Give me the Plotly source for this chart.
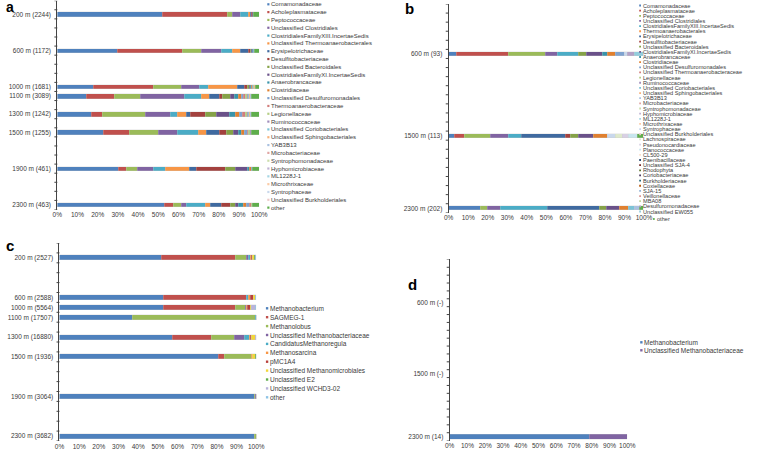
import plotly.graph_objects as go

W, H = 761, 451

# ---------------- Panel a data ----------------
a_depths = [200, 600, 1000, 1100, 1300, 1500, 1900, 2300]
a_reads = [2244, 1172, 1681, 3089, 1242, 1255, 461, 463]
a_families = ["Comamonadaceae", "Acholeplasmataceae", "Peptococcaceae", "Unclassified Clostridiales",
              "ClostridialesFamilyXIII.IncertaeSedis", "Unclassified Thermoanaerobacterales",
              "Erysipelotrichaceae", "Desulfitobacteriaceae", "Unclassified Bacteroidales",
              "ClostridialesFamilyXI.IncertaeSedis", "Anaerobrancaceae", "Clostridiaceae",
              "Unclassified Desulfuromonadales", "Thermoanaerobacteraceae", "Legionellaceae",
              "Ruminococcaceae", "Unclassified Coriobacteriales", "Unclassified Sphingobacteriales",
              "YAB3B13", "Microbacteriaceae", "Syntrophomonadaceae", "Hyphomicrobiaceae", "ML1228J-1",
              "Microthrixaceae", "Syntrophaceae", "Unclassified Burkholderiales", "other"]
a_200 = [52, 32, 2.6, 4, 4.1, 1.0, 0.5, 0.3, 0.2, 0.2, 0.1, 0.1, 0.1, 0.1, 0, 0, 0, 0, 0, 0, 0, 0, 0, 0, 0, 0, 2.7]
a_600 = [29.5, 32.3, 9.4, 9.8, 5.6, 4.0, 4.1, 1.0, 0.6, 0.4, 0.3, 0.2, 0.2, 0.1, 0.1, 0.1, 0, 0, 0, 0, 0, 0, 0, 0, 0, 0, 2.3]
a_1000 = [18, 29.7, 13.8, 8.9, 4.6, 14.3, 3.4, 1.2, 1.0, 0.8, 0.6, 0.5, 0.3, 0.2, 0.2, 0.2, 0.1, 0.1, 0, 0, 0, 0, 0, 0, 0, 0, 2.1]
a_1100 = [14.2, 14.1, 13.0, 21.5, 8.4, 4.0, 4.8, 1.5, 4.3, 2.0, 1.8, 1.5, 1.2, 1.0, 0.8, 0.7, 0.5, 0.4, 0.3, 0, 0, 0, 0, 0, 0, 0, 4.0]
a_1300 = [16.7, 5.5, 21.5, 12.4, 3.4, 4.4, 2.1, 7.1, 5.4, 6.5, 3.2, 2.0, 1.5, 1.2, 1.0, 0.8, 0.6, 0.4, 0.3, 0, 0, 0, 0, 0, 0, 0, 4.0]
a_1500 = [23, 12.9, 14.3, 9.2, 10.2, 4.0, 6.4, 3.6, 3.8, 2.0, 1.8, 1.5, 1.2, 0.9, 0.7, 0.5, 0.3, 0, 0, 0, 0, 0, 0, 0, 0, 0, 3.7]
a_1900 = [30, 4.3, 5.3, 7.8, 6.0, 12.1, 3.3, 14.2, 5.2, 5.7, 1.2, 0.9, 0.8, 0, 0, 0, 0, 0, 0, 0, 0, 0, 0, 0, 0, 0, 3.2]
a_2300 = [52.9, 4.5, 4.1, 2.4, 9.2, 2.6, 5.7, 4.4, 2.2, 1.8, 2.5, 1.5, 1.2, 0.9, 0.7, 0, 0, 0, 0, 0, 0, 0, 0, 0, 0, 0, 3.4]
a_rows = [a_200, a_600, a_1000, a_1100, a_1300, a_1500, a_1900, a_2300]

# ---------------- Panel b data ----------------
b_depths = [600, 1500, 2300]
b_reads = [93, 113, 202]
b_families = ["Comamonadaceae", "Acholeplasmataceae", "Peptococcaceae", "Unclassified Clostridiales",
              "ClostridialesFamilyXIII.IncertaeSedis", "Thermoanaerobacterales", "Erysipelotrichaceae",
              "Desulfitobacteriaceae", "Unclassified Bacteroidales", "ClostridialesFamilyXI.IncertaeSedis",
              "Anaerobrancaceae", "Clostridiaceae", "Unclassified Desulfuromonadales",
              "Unclassified Thermoanaerobacteraceae", "Legionellaceae", "Ruminococcaceae",
              "Unclassified Coriobacteriales", "Unclassified Sphingobacteriales", "YAB3B13",
              "Microbacteriaceae", "Syntrophomonadaceae", "Hyphomicrobiaceae", "ML1228J-1",
              "Microthrixaceae", "Syntrophaceae", "Unclassified Burkholderiales", "Lachnospiraceae",
              "Pseudonocardiaceae", "Planococcaceae", "CL500-29", "Paenibacillaceae", "Unclassified SJA-4",
              "Rhodophyta", "Coriobacteriaceae", "Burkholderiaceae", "Coxiellaceae", "SJA-15",
              "Veillonellaceae", "MBA08", "Desulfuromonadaceae", "Unclassified EW055", "other"]
b_600 = [4, 26.7, 19.2, 5.8, 10.8, 0, 0, 0, 4.2, 8.3, 2.5, 4.2, 4.2, 0, 0, 0, 0, 0, 0, 0, 0, 0, 0, 0,
         1.5, 0, 0, 0, 0, 0, 0, 0, 0, 0, 0, 0, 0, 0, 0, 4.0, 4.6, 0]
b_1500 = [3.2, 5, 13.3, 9.2, 6.6, 0, 22.5, 2.5, 4.2, 7.5, 0, 7.5, 0, 0, 0, 0, 0, 0, 0, 0, 0, 0, 0, 0,
          4.2, 0, 3.5, 3.0, 4.3, 0, 0, 0, 0, 0, 0, 0, 0, 0, 0, 0, 0, 3.5]
b_2300 = [16.5, 0, 3.3, 6.7, 24.2, 0, 26.6, 0, 3.4, 6.6, 0, 5.0, 0, 0, 0, 0, 3.0, 0, 2.7, 0, 0, 0, 0, 0,
          0, 0, 0, 0, 0, 0, 0, 0, 0, 0, 0, 0, 0, 0, 0, 0, 0, 2.0]
b_rows = [b_600, b_1500, b_2300]

# ---------------- Panel c data ----------------
c_depths = [200, 600, 1000, 1100, 1300, 1500, 1900, 2300]
c_reads = [2527, 2588, 5564, 17507, 16880, 1936, 3064, 3682]
c_genera = ["Methanobacterium", "SAGMEG-1", "Methanolobus", "Unclassified Methanobacteriaceae",
            "CandidatusMethanoregula", "Methanosarcina", "pMC1A4", "Unclassified Methanomicrobiales",
            "Unclassified E2", "Unclassified WCHD3-02", "other"]
c_200 = [52, 37.5, 5.5, 1.0, 1.0, 0.5, 0.5, 1.0, 0.5, 0.3, 0.2]
c_600 = [52.9, 41.9, 0, 0.3, 1.1, 1.0, 1.4, 0.8, 0.2, 0.2, 0.2]
c_1000 = [52.9, 36.3, 5.3, 0.3, 0.4, 0.5, 1.3, 0.5, 0.2, 2.1, 0.2]
c_1100 = [37.1, 0, 62.6, 0.1, 0.1, 0, 0, 0.1, 0, 0, 0]
c_1300 = [57.4, 19.6, 11.7, 5.3, 2.5, 0.5, 0.4, 2.3, 0.1, 0.1, 0.1]
c_1500 = [80.9, 2.8, 13.6, 0.2, 0.2, 0.3, 0.2, 1.6, 0.1, 0.1, 0]
c_1900 = [99.2, 0, 0.6, 0.1, 0.1, 0, 0, 0, 0, 0, 0]
c_2300 = [99.2, 0, 0.7, 0.1, 0, 0, 0, 0, 0, 0, 0]
c_rows = [c_200, c_600, c_1000, c_1100, c_1300, c_1500, c_1900, c_2300]

# ---------------- Panel d data ----------------
d_depths = [600, 1500, 2300]
d_reads = ["-", "-", "14"]
d_genera = ["Methanobacterium", "Unclassified Methanobacteriaceae"]
d_600 = [0, 0]
d_1500 = [0, 0]
d_2300 = [79, 21]
d_rows = [d_600, d_1500, d_2300]

# depth slots (category rows) of each panel's axis
ab_slots = list(range(100, 2400, 100))
c_slots = list(range(100, 700, 100)) + list(range(1000, 2400, 100))
x_ticks = list(range(0, 101, 10))

# ---------------- colours ----------------
fam_colors = ['#4F81BD', '#C0504D', '#9BBB59', '#8064A2', '#4BACC6', '#F79646',
              '#3F6AA0', '#A3413E', '#85A247', '#6A5189', '#3893AA', '#E0802F',
              '#7FA3D0', '#D27E7C', '#B5CE85', '#A08DBB', '#7CC3D6', '#F9B27A',
              '#A9C1E0', '#E0A6A4', '#CBDDAB', '#C0B3D3', '#A6D6E4', '#FBCBA6',
              '#C9D8EC', '#ECC9C8', '#DEE9CB', '#D8D0E4', '#C9E6EE', '#FDE0C9',
              '#2C4D75', '#772C2A', '#5F7530', '#4D3B62', '#276A7C', '#B65708',
              '#95B3D7', '#D99694', '#C3D69B', '#B3A2C7', '#93CDDD']
other_green = '#5FAE4C'
a_colors = fam_colors[:26] + [other_green]
b_colors = fam_colors[:41] + [other_green]
c_colors = ['#4F81BD', '#C0504D', '#9BBB59', '#8064A2', '#4BACC6', '#F79646', '#B8403C',
            '#F2D63A', '#5FAE4C', '#B9B3DB', '#8EC3E6']
d_colors = ['#4F81BD', '#8064A2']

FONT = "Liberation Sans, Arial, sans-serif"
TXT = '#3a3a3a'


def px_x(x):
    return x / W


def px_y(y):
    return 1 - y / H


fig = go.Figure()


def add_bars(names, colors, rows, depths, slots, ax, bar_w):
    ys = [slots.index(d) for d in depths]
    for j, name in enumerate(names):
        fig.add_trace(go.Bar(
            x=[r[j] for r in rows], y=ys, orientation='h', name=name,
            marker=dict(color=colors[j], line=dict(color='rgba(200,200,200,0.7)', width=0.4)),
            width=bar_w, xaxis='x' + ax, yaxis='y' + ax, showlegend=False))


add_bars(a_families, a_colors, a_rows, a_depths, ab_slots, '', 0.48)
add_bars(b_families, b_colors, b_rows, b_depths, ab_slots, '2', 0.45)
add_bars(c_genera, c_colors, c_rows, c_depths, c_slots, '3', 0.5)
add_bars(d_genera, d_colors, d_rows, d_depths, ab_slots, '4', 0.7)


def xaxis(domain, anchor):
    return dict(domain=domain, anchor=anchor, range=[0, 100], tickmode='array', tickvals=x_ticks,
                ticktext=[f"{v}%" for v in x_ticks], showgrid=False, zeroline=False, showline=False,
                ticks='', tickfont=dict(size=6.5, color=TXT, family=FONT), fixedrange=True)


def yaxis(domain, anchor, slots, depths, reads):
    return dict(domain=domain, anchor=anchor, range=[len(slots) - 0.5, -0.5], tickmode='array',
                tickvals=[slots.index(d) for d in depths],
                ticktext=[f"{d} m ({n})" for d, n in zip(depths, reads)],
                showgrid=False, zeroline=False, showline=True, linecolor='#444', linewidth=1,
                ticks='', ticklabelstandoff=4,
                tickfont=dict(size=6.5, color=TXT, family=FONT), fixedrange=True)


x_doms = {'': (53.3, 259), '2': (452, 651), '3': (55.5, 256), '4': (453, 634)}

fig.update_layout(
    width=W, height=H, margin=dict(l=0, r=0, t=0, b=0),
    paper_bgcolor='white', plot_bgcolor='white', barmode='stack', bargap=0,
    font=dict(family=FONT, color=TXT),
    xaxis=xaxis([px_x(x_doms[''][0]), px_x(x_doms[''][1])], 'y'),
    yaxis=yaxis([px_y(209.5), px_y(0.7)], 'x', ab_slots, a_depths, a_reads),
    xaxis2=xaxis([px_x(x_doms['2'][0]), px_x(x_doms['2'][1])], 'y2'),
    yaxis2=yaxis([px_y(212.8), px_y(4)], 'x2', ab_slots, b_depths, b_reads),
    xaxis3=xaxis([px_x(x_doms['3'][0]), px_x(x_doms['3'][1])], 'y3'),
    yaxis3=yaxis([px_y(441), px_y(243)], 'x3', c_slots, c_depths, c_reads),
    xaxis4=xaxis([px_x(x_doms['4'][0]), px_x(x_doms['4'][1])], 'y4'),
    yaxis4=yaxis([px_y(440.6), px_y(259.4)], 'x4', ab_slots, d_depths, d_reads),
)

annotations = []
shapes = []

# category-boundary tick marks on each y axis (left of the axis line)
for ax, slots in [('', ab_slots), ('2', ab_slots), ('3', c_slots), ('4', ab_slots)]:
    wpx = x_doms[ax][1] - x_doms[ax][0]
    for i in range(len(slots) + 1):
        shapes.append(dict(type='line', xref=f'x{ax} domain', yref=f'y{ax}',
                           x0=-3.0 / wpx, x1=0, y0=i - 0.5, y1=i - 0.5,
                           line=dict(color='#444', width=1)))


def add_legend(names, colors, xm, y0, dy, fsize, msize, last_pos=None):
    for i, (n, c) in enumerate(zip(names, colors)):
        x, y = xm, y0 + i * dy
        if last_pos is not None and i == len(names) - 1:
            x, y = last_pos
        shapes.append(dict(type='rect', xref='paper', yref='paper',
                           x0=px_x(x - msize / 2), x1=px_x(x + msize / 2),
                           y0=px_y(y + msize / 2), y1=px_y(y - msize / 2),
                           fillcolor=c, line=dict(width=0)))
        annotations.append(dict(text=n, xref='paper', yref='paper', x=px_x(x + 2), y=px_y(y),
                                xanchor='left', yanchor='middle', showarrow=False, borderpad=0,
                                font=dict(size=fsize, color=TXT, family=FONT)))


add_legend(a_families, a_colors, 268.3, 4.3, 7.82, 6, 2.2)
add_legend(b_families, b_colors, 647, 5.5, 5.15, 5.6, 1.8, last_pos=(661, 219))
add_legend(c_genera, c_colors, 267, 308.3, 8.9, 6.5, 2.4)
add_legend(d_genera, d_colors, 648.3, 342.3, 8.0, 6.5, 2.4)

for letter, lx, ly, fs in [('a', 5.5, 7.5, 14), ('b', 412, 8.5, 15), ('c', 5.5, 246, 15), ('d', 415, 284, 15)]:
    annotations.append(dict(text=f"<b>{letter}</b>", xref='paper', yref='paper', x=px_x(lx), y=px_y(ly),
                            xanchor='center', yanchor='middle', showarrow=False,
                            font=dict(size=fs, color='black', family=FONT)))

fig.update_layout(annotations=annotations, shapes=shapes)
fig.write_html("out.html", config={'displayModeBar': False},
               post_script="document.body.style.margin='0px';")
